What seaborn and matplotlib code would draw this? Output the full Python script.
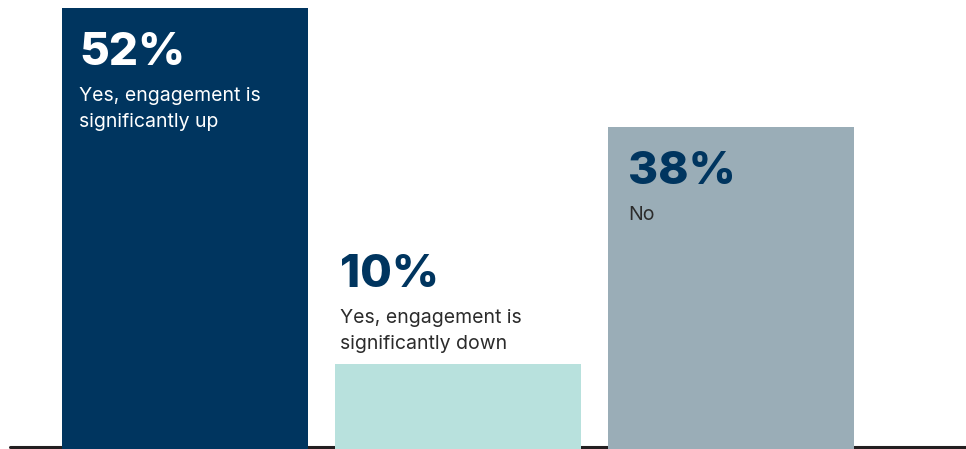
import matplotlib
matplotlib.use("Agg")
import matplotlib.pyplot as plt
import seaborn as sns
import pandas as pd

# Survey answers and their shares (percent)
categories = ["Yes, engagement is\nsignificantly up",
              "Yes, engagement is\nsignificantly down",
              "No"]
values = [52, 10, 38]
bar_colors = ["#00355F", "#B8E1DD", "#9AADB7"]
number_colors = ["#FFFFFF", "#00355F", "#00355F"]
label_colors = ["#FFFFFF", "#2B2B2B", "#2B2B2B"]

sns.set_theme(style="white")
plt.rcParams["font.family"] = ["Inter", "DejaVu Sans"]

df = pd.DataFrame({"answer": categories, "share": values})

fig = plt.figure(figsize=(9.66, 4.49), dpi=100)
ax = fig.add_axes([0, 0, 1, 1])

bar_width = 0.901
sns.barplot(data=df, x="answer", y="share", hue="answer",
            palette=bar_colors, saturation=1, width=bar_width,
            legend=False, ax=ax, zorder=2, linewidth=0)

ax.set_xlim(-0.678, 2.861)
ax.set_ylim(0, 52.95)
ax.axis("off")

# baseline rule, running behind the bars
ax.axhline(0.18, xmin=10 / 966, xmax=1, color="#231F20", lw=2.2, zorder=1)

# text placement (pixels): left inset, and whether text sits inside or above
x_inset = [17, 5, 20]
inside = [True, False, True]

for i, (lab, val) in enumerate(zip(categories, values)):
    left = i - bar_width / 2
    lines = lab.split("\n")
    num_dy = -57 if inside[i] else 77
    ax.annotate(f"{val}%", xy=(left, val), xytext=(x_inset[i], num_dy),
                textcoords="offset pixels", ha="left", va="baseline",
                fontsize=33, fontweight=800, color=number_colors[i],
                zorder=3)
    for j, line in enumerate(lines):
        ax.annotate(line, xy=(left, val),
                    xytext=(x_inset[i], num_dy - 36 - 25.5 * j),
                    textcoords="offset pixels", ha="left", va="baseline",
                    fontsize=14, color=label_colors[i], zorder=3)

fig.savefig("out.png", dpi=100)
